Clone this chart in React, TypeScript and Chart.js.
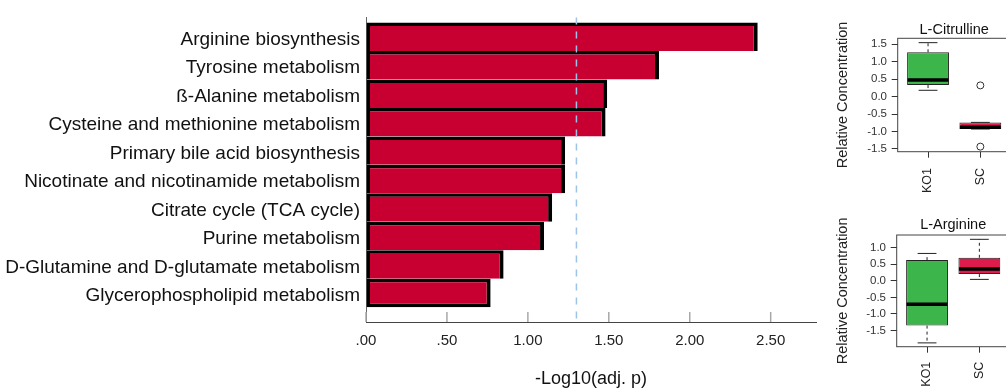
import React, { useEffect, useRef } from 'react';
import { Chart, registerables } from 'chart.js';

Chart.register(...registerables);

const FONT = "'Liberation Sans', Arial, sans-serif";

// ---- main bar chart data ----
const pathways = [
  'Arginine biosynthesis',
  'Tyrosine metabolism',
  'ß-Alanine metabolism',
  'Cysteine and methionine metabolism',
  'Primary bile acid biosynthesis',
  'Nicotinate and nicotinamide metabolism',
  'Citrate cycle (TCA cycle)',
  'Purine metabolism',
  'D-Glutamine and D-glutamate metabolism',
  'Glycerophospholipid metabolism',
];
const negLog10AdjP = [2.42, 1.81, 1.49, 1.48, 1.23, 1.23, 1.15, 1.1, 0.85, 0.77];
const significanceThreshold = 1.3;
const xTickValues = [0, 0.5, 1, 1.5, 2, 2.5];
const xTickLabels = ['.00', '.50', '1.00', '1.50', '2.00', '2.50'];

// ---- box plot data ----
const groups = ['KO1', 'SC'];
const boxColors = ['#3CB54A', '#DF1B4B'];

const citWhiskerLow = [0.18, -0.93];
const citQ1 = [0.33, -0.93];
const citMedian = [0.476, -0.88];
const citQ3 = [1.27, -0.74];
const citWhiskerHigh = [1.545, -0.74];
const citOutlierGroup = [2, 2];
const citOutlierValue = [0.32, -1.435];
const citTicks = [-1.5, -1, -0.5, 0, 0.5, 1, 1.5];

const argWhiskerLow = [-1.87, 0.04];
const argQ1 = [-1.35, 0.2];
const argMedian = [-0.71, 0.35];
const argQ3 = [0.62, 0.69];
const argWhiskerHigh = [0.82, 1.245];
const argOutlierGroup: number[] = [];
const argOutlierValue: number[] = [];
const argTicks = [-1.5, -1, -0.5, 0, 0.5, 1];

function mainConfig(): any {
  const decoPlugin = {
    id: 'mainDeco',
    afterDatasetsDraw(chart: any) {
      const { ctx, chartArea, scales } = chart;
      const x = scales.x;
      ctx.save();
      const tx = x.getPixelForValue(significanceThreshold);
      ctx.strokeStyle = '#9DC3E6';
      ctx.lineWidth = 1.5;
      ctx.setLineDash([7, 7]);
      ctx.beginPath();
      ctx.moveTo(tx, chartArea.top);
      ctx.lineTo(tx, chartArea.bottom);
      ctx.stroke();
      ctx.setLineDash([]);
      ctx.strokeStyle = '#A8A8A8';
      ctx.lineWidth = 1.5;
      xTickValues.forEach((v) => {
        const px = x.getPixelForValue(v);
        ctx.beginPath();
        ctx.moveTo(px, chartArea.bottom - 10);
        ctx.lineTo(px, chartArea.bottom);
        ctx.stroke();
      });
      ctx.restore();
    },
  };
  const borderWidths = pathways.map((_, i) => ({
    top: 3.5,
    left: 3.5,
    right: 4,
    bottom: i === pathways.length - 1 ? 3.5 : 0,
  }));
  return {
    type: 'bar',
    data: {
      datasets: [
        {
          data: negLog10AdjP.map((v, i) => ({ x: v, y: i })),
          backgroundColor: '#C80032',
          borderColor: '#000',
          borderWidth: borderWidths,
          borderSkipped: false,
          inflateAmount: 0,
          barPercentage: 1,
          categoryPercentage: 1,
        },
      ],
    },
    options: {
      indexAxis: 'y',
      responsive: false,
      animation: false,
      layout: { padding: { left: 0, top: 12, right: 14, bottom: 0 } },
      plugins: { legend: { display: false }, tooltip: { enabled: false }, title: { display: false } },
      scales: {
        y: {
          type: 'linear',
          reverse: true,
          offset: false,
          min: -0.68,
          max: 10.02,
          afterBuildTicks: (s: any) => {
            s.ticks = pathways.map((_, i) => ({ value: i }));
          },
          afterFit: (s: any) => {
            s.width = 366;
          },
          ticks: {
            autoSkip: false,
            callback: (v: any) => pathways[v],
            font: { family: FONT, size: 19 },
            color: '#111',
            padding: 6,
            labelOffset: 3,
          },
          grid: { display: true, drawOnChartArea: false, drawTicks: false, offset: false },
          border: { display: true, color: '#666', width: 1 },
        },
        x: {
          type: 'linear',
          min: 0,
          max: 2.78,
          offset: false,
          afterBuildTicks: (s: any) => {
            s.ticks = xTickValues.map((v) => ({ value: v }));
          },
          afterFit: (s: any) => {
            s.height = 68;
          },
          ticks: {
            autoSkip: false,
            maxRotation: 0,
            callback: (v: any) => xTickLabels[xTickValues.indexOf(v)],
            font: { family: FONT, size: 15 },
            color: '#222',
            padding: 10,
          },
          grid: { display: true, drawOnChartArea: false, drawTicks: false },
          border: { display: true, color: '#444', width: 1 },
          title: {
            display: true,
            text: '-Log10(adj. p)',
            font: { family: FONT, size: 18 },
            color: '#111',
            padding: { top: 0, bottom: 0 },
          },
        },
      },
    },
    plugins: [decoPlugin],
  };
}

function boxConfig(p: {
  title: string;
  low: number[];
  q1: number[];
  med: number[];
  q3: number[];
  high: number[];
  outG: number[];
  outV: number[];
  ticks: number[];
  yMin: number;
  yMax: number;
  titlePad: { top: number; bottom: number };
  yWidth: number;
  xHeight: number;
  rightPad: number;
  xLabelPad: number;
  yTitlePad: number;
}): any {
  const boxPlugin = {
    id: 'boxDeco',
    afterDatasetsDraw(chart: any) {
      const { ctx, chartArea, scales } = chart;
      const y = scales.y;
      const meta = chart.getDatasetMeta(0);
      const line = (x1: number, y1: number, x2: number, y2: number) => {
        ctx.beginPath();
        ctx.moveTo(x1, y1);
        ctx.lineTo(x2, y2);
        ctx.stroke();
      };
      ctx.save();
      meta.data.forEach((bar: any, i: number) => {
        const cx = bar.x;
        const w = bar.width;
        const yl = y.getPixelForValue(p.low[i]);
        const yq1 = y.getPixelForValue(p.q1[i]);
        const ym = y.getPixelForValue(p.med[i]);
        const yq3 = y.getPixelForValue(p.q3[i]);
        const yh = y.getPixelForValue(p.high[i]);
        ctx.strokeStyle = '#222';
        ctx.lineWidth = 1;
        ctx.setLineDash([3, 3]);
        line(cx, yq3, cx, yh);
        line(cx, yq1, cx, yl);
        ctx.setLineDash([]);
        const cw = (w * 0.45) / 2;
        line(cx - cw, yh, cx + cw, yh);
        line(cx - cw, yl, cx + cw, yl);
        ctx.strokeStyle = '#000';
        ctx.lineWidth = 3.5;
        line(cx - w / 2 + 0.5, ym, cx + w / 2 - 0.5, ym);
      });
      ctx.strokeStyle = '#444';
      ctx.lineWidth = 1;
      ctx.strokeRect(chartArea.left, chartArea.top, chartArea.right - chartArea.left, chartArea.bottom - chartArea.top);
      ctx.restore();
    },
  };
  return {
    type: 'bar',
    data: {
      datasets: [
        {
          type: 'bar',
          data: groups.map((_, i) => ({ x: i + 1, y: [p.q1[i], p.q3[i]] })),
          backgroundColor: boxColors,
          borderColor: '#222',
          borderWidth: 1,
          borderSkipped: false,
          inflateAmount: 0,
          barPercentage: 0.8,
          categoryPercentage: 1,
        },
        {
          type: 'scatter',
          data: p.outG.map((g, i) => ({ x: g, y: p.outV[i] })),
          pointRadius: 3.5,
          pointBorderWidth: 1,
          borderColor: '#333',
          backgroundColor: 'rgba(0,0,0,0)',
        },
      ],
    },
    options: {
      responsive: false,
      animation: false,
      layout: { padding: { left: 0, top: 0, right: p.rightPad, bottom: 0 } },
      plugins: {
        legend: { display: false },
        tooltip: { enabled: false },
        title: {
          display: true,
          text: p.title,
          fullSize: false,
          font: { family: FONT, size: 14.5, weight: 'normal' },
          color: '#111',
          padding: p.titlePad,
        },
      },
      scales: {
        x: {
          type: 'linear',
          min: 0.42,
          max: 2.58,
          offset: false,
          afterBuildTicks: (s: any) => {
            s.ticks = groups.map((_, i) => ({ value: i + 1 }));
          },
          afterFit: (s: any) => {
            s.height = p.xHeight;
          },
          ticks: {
            autoSkip: false,
            minRotation: 90,
            maxRotation: 90,
            callback: (v: any) => groups[v - 1],
            font: { family: FONT, size: 12.5 },
            color: '#222',
            padding: p.xLabelPad,
          },
          grid: { display: true, offset: false, drawOnChartArea: false, drawTicks: true, tickLength: 6, color: '#333' },
          border: { display: false },
        },
        y: {
          type: 'linear',
          min: p.yMin,
          max: p.yMax,
          afterBuildTicks: (s: any) => {
            s.ticks = p.ticks.map((v) => ({ value: v }));
          },
          afterFit: (s: any) => {
            s.width = p.yWidth;
          },
          ticks: {
            autoSkip: false,
            callback: (v: any) => Number(v).toFixed(1),
            font: { family: FONT, size: 11.5 },
            color: '#333',
            padding: 4.7,
          },
          grid: { display: true, drawOnChartArea: false, drawTicks: true, tickLength: 6, color: '#333' },
          border: { display: false },
          title: {
            display: true,
            text: 'Relative Concentration',
            font: { family: FONT, size: 14.5 },
            color: '#222',
            padding: { top: p.yTitlePad, bottom: 0 },
          },
        },
      },
    },
    plugins: [boxPlugin],
  };
}

export default function App() {
  const mainRef = useRef<HTMLCanvasElement>(null);
  const citRef = useRef<HTMLCanvasElement>(null);
  const argRef = useRef<HTMLCanvasElement>(null);

  useEffect(() => {
    const charts: Chart[] = [];
    if (mainRef.current) charts.push(new Chart(mainRef.current, mainConfig()));
    if (citRef.current)
      charts.push(
        new Chart(
          citRef.current,
          boxConfig({
            title: 'L-Citrulline',
            low: citWhiskerLow,
            q1: citQ1,
            med: citMedian,
            q3: citQ3,
            high: citWhiskerHigh,
            outG: citOutlierGroup,
            outV: citOutlierValue,
            ticks: citTicks,
            yMin: -1.58,
            yMax: 1.67,
            titlePad: { top: 20.9, bottom: 0 },
            yWidth: 77.7,
            xHeight: 48.3,
            rightPad: 9.3,
            xLabelPad: 10.3,
            yTitlePad: 14.6,
          })
        )
      );
    if (argRef.current)
      charts.push(
        new Chart(
          argRef.current,
          boxConfig({
            title: 'L-Arginine',
            low: argWhiskerLow,
            q1: argQ1,
            med: argMedian,
            q3: argQ3,
            high: argWhiskerHigh,
            outG: argOutlierGroup,
            outV: argOutlierValue,
            ticks: argTicks,
            yMin: -1.985,
            yMax: 1.375,
            titlePad: { top: 26.3, bottom: 1.3 },
            yWidth: 76.7,
            xHeight: 43.3,
            rightPad: 10.3,
            xLabelPad: 9,
            yTitlePad: 14.3,
          })
        )
      );
    return () => charts.forEach((c) => c.destroy());
  }, []);

  return (
    <div
      style={{
        position: 'fixed',
        left: 0,
        top: 0,
        width: 1006,
        height: 390,
        overflow: 'hidden',
        background: '#fff',
      }}
    >
      <canvas ref={mainRef} width={830} height={390} style={{ position: 'absolute', left: 0, top: 0 }} />
      <canvas ref={citRef} width={200} height={200} style={{ position: 'absolute', left: 820, top: 0 }} />
      <canvas ref={argRef} width={200} height={200} style={{ position: 'absolute', left: 820, top: 190 }} />
    </div>
  );
}
